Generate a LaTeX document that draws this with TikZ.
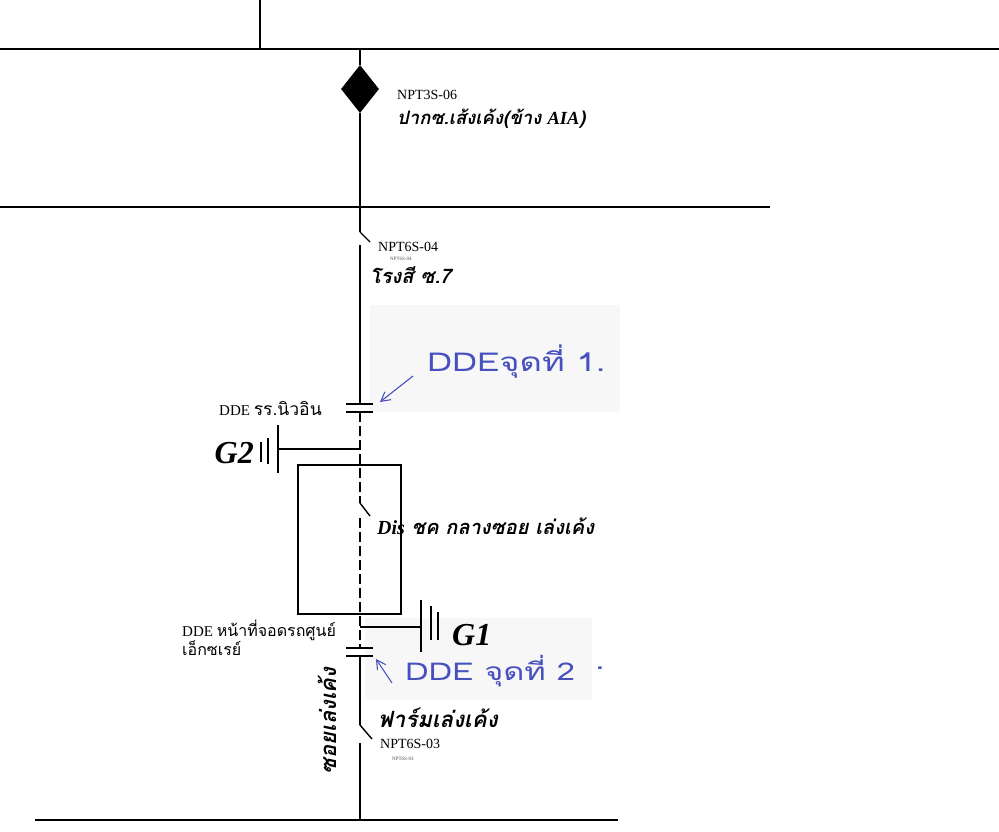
\documentclass[tikz,border=0pt]{standalone}
\usepackage{fontspec}
\setmainfont{Liberation Serif}
\newfontfamily\thaifont[Script=Thai]{Loma}
\newfontfamily\handfont[Script=Thai,FakeStretch=1.33]{Loma}
\usepackage{xcolor}
\usepackage{tikz}
\usetikzlibrary{shapes,arrows,positioning,calc,arrows.meta}
\definecolor{penblue}{RGB}{70,80,190}
\newcommand\placefont[1]{\thaifont\bfseries\itshape\fontsize{#1}{#1}\selectfont}

\begin{document}
\begin{tikzpicture}[x=1pt,y=-1pt,
  bus/.style={line width=1.2pt},
  feeder/.style={line width=1.6pt},
  cut/.style={line width=1.6pt,dash pattern=on 10pt off 4pt},
  blade/.style={line width=1.4pt},
  plate/.style={line width=1.8pt},
  sheet/.style={fill=black!3,draw=none},
  npt/.style={font=\fontsize{14}{14}\selectfont,anchor=base west,inner sep=0pt},
  tinylbl/.style={font=\fontsize{5}{5}\selectfont,anchor=base west,inner sep=0pt,text=black!70},
  place/.style={font=\placefont{18.5},anchor=base west,inner sep=0pt},
  dde/.style={font=\fontsize{15}{15}\selectfont,anchor=base west,inner sep=0pt},
  gen/.style={font=\bfseries\itshape\fontsize{32}{32}\selectfont,anchor=base west,inner sep=0pt},
  pen/.style={draw=penblue,line width=1.1pt,-{Straight Barb[length=9pt,width=10pt]}},
  note/.style={font=\handfont\fontsize{26}{26}\selectfont,text=penblue,anchor=west,inner sep=0pt}]
\useasboundingbox (0,0) rectangle (999,831);
\fill[sheet] (370,305) rectangle (620,412);
\fill[sheet] (365,618) rectangle (592,700);

\draw[bus] (0,49) -- (999,49);
\draw[bus] (260,0) -- (260,49);
\draw[bus] (0,207) -- (770,207);
\draw[bus] (35,820) -- (618,820);

\coordinate (b1) at (360,49);
\coordinate (b2) at (360,207);
\coordinate (b3) at (360,820);
\coordinate (s04a) at (360,232);
\coordinate (s04b) at (360,245);
\coordinate (c1t) at (360,404);
\coordinate (c1b) at (360,412);
\coordinate (g2t) at (360,449);
\coordinate (disa) at (360,503);
\coordinate (disb) at (360,518);
\coordinate (g1t) at (360,627);
\coordinate (c2t) at (360,648);
\coordinate (c2b) at (360,656);
\coordinate (s03a) at (360,725);
\coordinate (s03b) at (360,743);
\coordinate (g2p) at (278,449);
\coordinate (g1p) at (421,627);

\node[diamond,fill=black,inner sep=0pt,minimum width=38pt,minimum height=48pt] (s06) at (360,89) {};
\draw[feeder] (b1) -- (s06.north);
\draw[feeder] (s06.south) -- (b2) -- (s04a);
\draw[blade] (s04a) -- ++(10,10);
\draw[feeder] (s04b) -- (c1t);
\draw[plate] (346,404) -- (373,404) (346,412) -- (373,412);
\draw[cut] (c1b) -- (disa);
\draw[blade] (disa) -- ++(10,13);
\draw[cut] (disb) -- (c2t);
\draw[plate] (346,648) -- (373,648) (346,656) -- (373,656);
\draw[feeder] (c2b) -- (s03a);
\draw[blade] (s03a) -- ++(12,14);
\draw[feeder] (s03b) -- (b3);

\draw[line width=1.4pt] (298,465) rectangle (401,614);

\draw[feeder] (g2t) -- (g2p);
\draw[plate] (278,425) -- (278,473);
\draw[blade] (268,438) -- (268,464) (261,442) -- (261,462);
\draw[feeder] (g1t) -- (g1p);
\draw[plate] (421,600) -- (421,652);
\draw[blade] (431,606) -- (431,640) (438,612) -- (438,640);

\node[npt] (l06) at (397,99) {NPT3S-06};
\node[place] (p06) at (397,124) {ปากซ.เส้งเค้ง(ข้าง {\rmfamily AIA})};
\node[npt] (l04) at (378,251) {NPT6S-04};
\node[tinylbl] (t04) at (390,260) {NPT6S-04};
\node[place,font=\placefont{20}] (p04) at (370,283) {โรงสี ซ.7};
\node[dde] (d1) at (219,415) {DDE {\thaifont\fontsize{17.5}{17.5}\selectfont รร.นิวอิน}};
\node[gen,anchor=base east] (g2) at (254,463) {G2};
\node[place,font=\placefont{20}] (pdis) at (377,534) {{\rmfamily Dis} ชค กลางซอย เล่งเค้ง};
\node[gen] (g1) at (452,645) {G1};
\node[dde] (d2) at (182,636) {DDE {\thaifont\fontsize{16}{16}\selectfont หน้าที่จอดรถศูนย์}};
\node[dde,font=\thaifont\fontsize{16}{16}\selectfont] (d2b) at (182,655) {เอ็กซเรย์};
\node[place,font=\placefont{22.3}] (p03) at (378,727) {ฟาร์มเล่งเค้ง};
\node[npt] (l03) at (380,748) {NPT6S-03};
\node[tinylbl] (t03) at (392,760) {NPT6S-03};
\node[place,font=\placefont{22},anchor=center,rotate=90] (soi) at (327,721) {ซอยเล่งเค้ง};

\node[note] (n1) at (427,362) {DDEจุดที่ 1.};
\draw[pen] (413,376) -- (380,402);
\node[note,font=\handfont\fontsize{24.5}{24.5}\selectfont] (n2) at (405,671) {DDE จุดที่ 2};
\draw[pen] (392,683) -- (376,659);
\node[note] (dot) at (595,668) {.};
\end{tikzpicture}
\end{document}
